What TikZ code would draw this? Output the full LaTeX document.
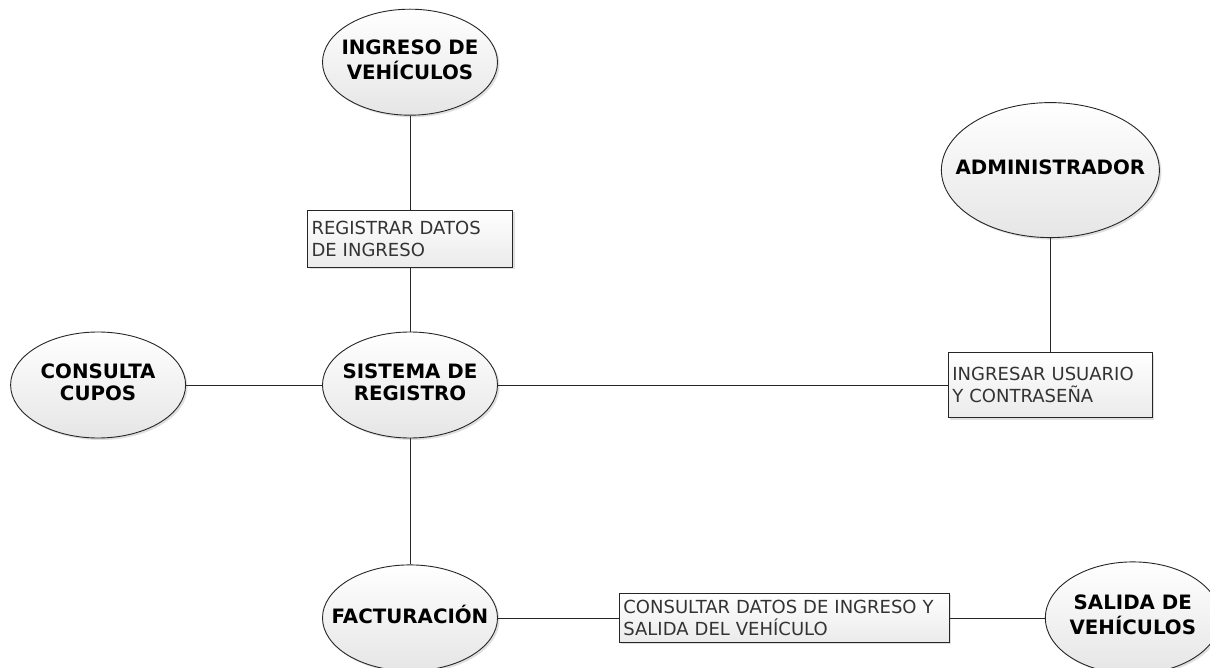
\documentclass[tikz,border=0pt]{standalone}
\usepackage{fontspec}
\setmainfont{DejaVu Sans}
\usetikzlibrary{positioning, shapes.geometric, shadows}
\tikzset{
  usecase/.style={ellipse, draw=black!85, line width=0.9pt, top color=white, bottom color=black!10,
    drop shadow={opacity=0.25, shadow xshift=2pt, shadow yshift=-2pt},
    minimum width=175pt, minimum height=106pt, inner sep=0pt,
    font=\bfseries\fontsize{19.8}{22}\selectfont},
  notebox/.style={rectangle, draw=black!85, line width=0.9pt, top color=white, bottom color=black!8,
    drop shadow={opacity=0.25, shadow xshift=2pt, shadow yshift=-2pt},
    align=left, inner xsep=4pt, inner ysep=2pt, text=black!80, font=\fontsize{18}{21.7}\selectfont},
  link/.style={line width=0.8pt, draw=black!85},
}
\newcommand{\uctext}[1]{\makebox[0pt]{\begin{tabular}{@{}c@{}}#1\end{tabular}}}

\begin{document}
\begin{tikzpicture}[x=1pt, y=-1pt]
  \useasboundingbox[fill=white] (0,0) rectangle (1210,668);

  % Nodes
  \node[usecase] (sistema) at (410,385) {\uctext{SISTEMA DE\\REGISTRO}};
  \node[notebox, text width=197pt, minimum height=57pt, above=64pt of sistema] (registrar) {REGISTRAR DATOS\\DE INGRESO};
  \node[usecase, above=94pt of registrar] (ingreso) {\uctext{INGRESO DE\\VEHÍCULOS}};
  \node[usecase, left=136pt of sistema] (cupos) {\uctext{CONSULTA\\CUPOS}};
  \node[notebox, text width=196pt, minimum height=65pt, right=450pt of sistema] (ingresar) {INGRESAR USUARIO\\Y CONTRASEÑA};
  \node[usecase, minimum width=218pt, minimum height=135pt, above=114pt of ingresar] (admin) {\uctext{ADMINISTRADOR}};
  \node[usecase, below=126pt of sistema] (factura) {\uctext{FACTURACIÓN}};
  \node[notebox, text width=322pt, minimum height=49pt, right=121pt of factura] (consultar) {CONSULTAR DATOS DE INGRESO Y\\SALIDA DEL VEHÍCULO};
  \node[usecase, minimum height=112pt, right=95pt of consultar] (salida) {\uctext{SALIDA DE\\VEHÍCULOS}};

  % Connectors
  \draw[link] (ingreso) -- (registrar);
  \draw[link] (registrar) -- (sistema);
  \draw[link] (cupos) -- (sistema);
  \draw[link] (sistema) -- (ingresar);
  \draw[link] (admin) -- (ingresar);
  \draw[link] (sistema) -- (factura);
  \draw[link] (factura) -- (consultar);
  \draw[link] (consultar) -- (salida);

\end{tikzpicture}
\end{document}
